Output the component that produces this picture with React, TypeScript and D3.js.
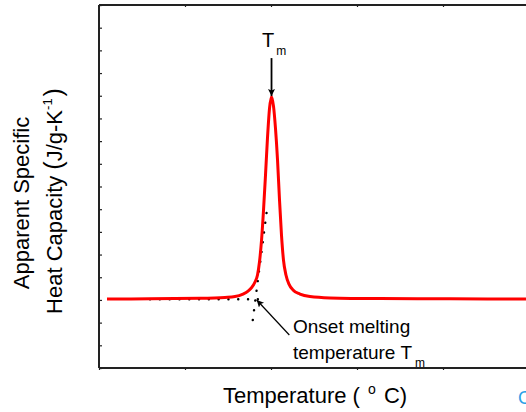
import React, { useEffect, useRef } from "react";
import * as d3 from "d3";

// Temperature (arbitrary units, one unit per major tick)
const temperature = [
  0.093, 0.593, 1.174, 1.465, 1.581, 1.674, 1.733, 1.779, 1.814, 1.843, 1.866, 1.89,
  1.913, 1.936, 1.959, 1.983, 2.006, 2.029, 2.052, 2.076, 2.099, 2.122, 2.145, 2.174,
  2.209, 2.256, 2.337, 2.453, 2.686, 3.267, 4.081, 4.965,
];
// Apparent specific heat capacity (arbitrary units)
const heatCapacity = [
  3.04, 3.05, 3.07, 3.11, 3.15, 3.26, 3.39, 3.57, 3.79, 4.1, 4.67, 5.64,
  6.96, 8.5, 10.13, 11.45, 11.96, 11.54, 10.57, 9.16, 7.4, 5.86, 4.76, 4.1,
  3.7, 3.44, 3.26, 3.15, 3.09, 3.06, 3.05, 3.04,
];

const xTicks = [0, 1, 2, 3, 4, 5];
const yTicks = d3.range(0, 17);

// annotation geometry (data units)
const peakT = 2.006;
const peakCp = 11.99;
const tmArrowTop = 13.66;
const baselineTangent = [[0.593, 3.03], [1.953, 3.03]];
const riseTangent = [[1.948, 6.83], [1.783, 1.96]];
const onsetArrow = [[2.213, 1.454], [1.834, 2.997]];

const W = 526;
const H = 412;

export default function App() {
  const ref = useRef<SVGSVGElement>(null);

  useEffect(() => {
    const svg = d3.select(ref.current);
    svg.selectAll("*").remove();

    const x = d3.scaleLinear().domain([0, 5.3]).range([99, 99 + 5.3 * 86]);
    const y = d3.scaleLinear().domain([0, 16]).range([368, 5]);
    const font = "Liberation Sans, Arial, sans-serif";

    const defs = svg.append("defs");
    defs
      .append("marker")
      .attr("id", "ah")
      .attr("viewBox", "0 0 10 10")
      .attr("refX", 10)
      .attr("refY", 5)
      .attr("markerWidth", 10)
      .attr("markerHeight", 7)
      .attr("markerUnits", "userSpaceOnUse")
      .attr("orient", "auto")
      .append("path")
      .attr("d", "M0,0 L10,5 L0,10 L2,5 Z")
      .attr("fill", "#000");

    // frame
    const axisColor = "#222";
    const gL = svg.append("g").attr("transform", `translate(${x(0)},0)`)
      .call(d3.axisLeft(y).tickValues(yTicks).tickSize(-3).tickFormat(() => ""));
    const gB = svg.append("g").attr("transform", `translate(0,${y(0)})`)
      .call(d3.axisBottom(x).tickValues(xTicks).tickSize(2).tickFormat(() => ""));
    const gT = svg.append("g").attr("transform", `translate(0,${y(16)})`)
      .call(d3.axisTop(x).tickValues(xTicks).tickSize(-2).tickFormat(() => ""));
    [gL, gB, gT].forEach((g) => {
      g.select(".domain").attr("stroke", axisColor).attr("stroke-width", 2);
      g.selectAll(".tick line").attr("stroke", axisColor).attr("stroke-width", 1.2);
    });
    gB.select(".domain").attr("d", `M${x(0)},0H${x(5.3)}`);
    gT.select(".domain").attr("d", `M${x(0)},0H${x(5.3)}`);
    gL.select(".domain").attr("d", `M0,${y(0)}V${y(16)}`);

    // dotted tangents
    const ln = d3.line<number[]>().x((d) => x(d[0])).y((d) => y(d[1]));
    [baselineTangent, riseTangent].forEach((seg) => {
      svg.append("path")
        .attr("d", ln(seg as any))
        .attr("fill", "none")
        .attr("stroke", "#000")
        .attr("stroke-width", 2.4)
        .attr("stroke-linecap", "round")
        .attr("stroke-dasharray", "0.1 9.7");
    });

    // curve
    const data = temperature.map((t, i) => [t, heatCapacity[i]]);
    svg.append("path")
      .attr("d", d3.line<number[]>().x((d) => x(d[0])).y((d) => y(d[1])).curve(d3.curveMonotoneX)(data as any))
      .attr("fill", "none")
      .attr("stroke", "#ff0000")
      .attr("stroke-width", 3);

    // Tm arrow
    svg.append("line")
      .attr("x1", x(peakT)).attr("y1", y(tmArrowTop))
      .attr("x2", x(peakT)).attr("y2", y(peakCp))
      .attr("stroke", "#000").attr("stroke-width", 1.8)
      .attr("marker-end", "url(#ah)");
    // onset arrow
    svg.append("line")
      .attr("x1", x(onsetArrow[0][0])).attr("y1", y(onsetArrow[0][1]))
      .attr("x2", x(onsetArrow[1][0])).attr("y2", y(onsetArrow[1][1]))
      .attr("stroke", "#000").attr("stroke-width", 1.2)
      .attr("marker-end", "url(#ah)");

    // Tm label
    const tm = svg.append("text").attr("x", x(peakT) - 9.5).attr("y", 47)
      .attr("font-family", font).attr("font-size", 20).attr("fill", "#000");
    tm.append("tspan").text("T");
    tm.append("tspan").attr("dx", 2).attr("dy", 8).attr("font-size", 12).text("m");

    // onset label
    svg.append("text").attr("x", 293).attr("y", 333)
      .attr("font-family", font).attr("font-size", 19).attr("fill", "#000")
      .text("Onset melting");
    const t2 = svg.append("text").attr("x", 293).attr("y", 359)
      .attr("font-family", font).attr("font-size", 19).attr("fill", "#000");
    t2.append("tspan").text("temperature T");
    t2.append("tspan").attr("dx", 3).attr("dy", 8).attr("font-size", 12).text("m");

    // x title
    const xt = svg.append("text").attr("x", 223).attr("y", 403)
      .attr("font-family", font).attr("font-size", 22).attr("fill", "#000");
    xt.append("tspan").text("Temperature ( ");
    xt.append("tspan").attr("dx", 2).attr("dy", -9).attr("font-size", 14).text("o");
    xt.append("tspan").attr("dx", 2).attr("dy", 9).text(" C)");

    // y title
    svg.append("text")
      .attr("transform", "translate(29,203) rotate(-90)")
      .attr("text-anchor", "middle")
      .attr("font-family", font).attr("font-size", 22).attr("fill", "#000")
      .text("Apparent Specific");
    const yt = svg.append("text")
      .attr("transform", "translate(62,201) rotate(-90)")
      .attr("text-anchor", "middle")
      .attr("font-family", font).attr("font-size", 22).attr("fill", "#000");
    yt.append("tspan").text("Heat Capacity ");
    yt.append("tspan").attr("font-size", 25).text("(");
    yt.append("tspan").text("J/g-K");
    yt.append("tspan").attr("dy", -10).attr("font-size", 13).text("-1");
    yt.append("tspan").attr("dx", 2).attr("dy", 10).attr("font-size", 25).text(")");

    // watermark fragment
    svg.append("text").attr("x", 518).attr("y", 404)
      .attr("font-family", font).attr("font-size", 18).attr("fill", "#2aa0e6")
      .text("C");
  }, []);

  return (
    <svg
      ref={ref}
      width={W}
      height={H}
      style={{ position: "absolute", left: 0, top: 0, background: "#fff" }}
    />
  );
}
